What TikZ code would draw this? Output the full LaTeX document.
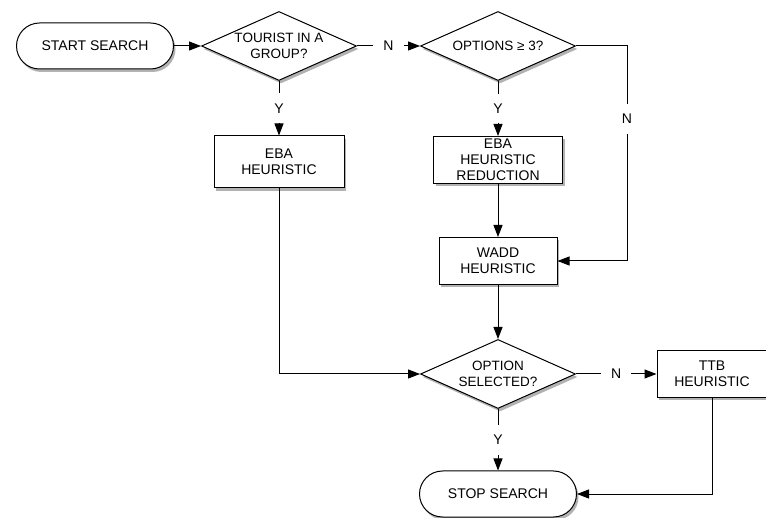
\documentclass[tikz,border=0pt]{standalone}
\usepackage{fontspec}
\setmainfont{Liberation Sans}
\usetikzlibrary{shapes,arrows.meta,shadows,positioning}
\tikzstyle{shade} = [drop shadow={shadow xshift=2pt, shadow yshift=-3pt, fill=black, opacity=0.3}]
\tikzstyle{block} = [rectangle, draw, fill=white, line width=1pt, align=center,
    inner sep=2pt, minimum height=47pt, shade]
\tikzstyle{decision} = [diamond, draw, fill=white, line width=1pt, align=center,
    font=\fontsize{13.5}{15.5}\selectfont,
    aspect=2.2, inner sep=0pt, minimum width=155pt, minimum height=69pt, shade]
\tikzstyle{terminal} = [rectangle, rounded corners=23pt, draw, fill=white, line width=1pt,
    minimum width=157pt, minimum height=46pt, shade]
\tikzstyle{answer} = [fill=white, inner sep=10pt]
\tikzstyle{line} = [draw, line width=1pt, -{Triangle[length=12pt,width=9pt]}]

\begin{document}
\begin{tikzpicture}[node distance=3cm, font=\fontsize{14}{16}\selectfont]
		\useasboundingbox (0,0) rectangle (766pt,-518pt);
		\node [terminal] (start) at (95pt,-46pt) {START SEARCH};
		\node [decision, right of=start, node distance=184pt] (group) {TOURIST IN A\\GROUP?};
		\node [decision, right of=group, node distance=219pt] (options) {OPTIONS ≥ 3?};
		\node [block, below of=group, node distance=116pt, minimum width=130pt, minimum height=52pt] (eba) {EBA\\HEURISTIC};
		\node [block, below of=options, node distance=114pt, minimum width=129pt] (ebared) {EBA\\HEURISTIC\\REDUCTION};
		\node [block, below of=ebared, node distance=101pt, minimum width=118pt] (wadd) {WADD\\HEURISTIC};
		\node [decision, below of=wadd, node distance=113pt] (selected) {OPTION\\SELECTED?};
		\node [block, right of=selected, node distance=214pt, minimum width=110pt] (ttb) {TTB\\HEURISTIC};
		\node [terminal, below of=selected, node distance=120pt] (stop) {STOP SEARCH};
		\coordinate [right of=options, node distance=129pt] (turn);
		
		\path [line] (start) -- (group);
		\path [line] (group) -- node [answer] {N} (options);
		\path [line] (group) -- node [answer] {Y} (eba);
		\path [line] (options) -- node [answer] {Y} (ebared);
		\path [line] (options) -- (turn) |- node [answer, pos=0.17] {N} (wadd);
		\path [line] (ebared) -- (wadd);
		\path [line] (eba) |- (selected);
		\path [line] (wadd) -- (selected);
		\path [line] (selected) -- node [answer] {N} (ttb);
		\path [line] (selected) -- node [answer] {Y} (stop);
		\path [line] (ttb) |- (stop);
	\end{tikzpicture}
\end{document}
